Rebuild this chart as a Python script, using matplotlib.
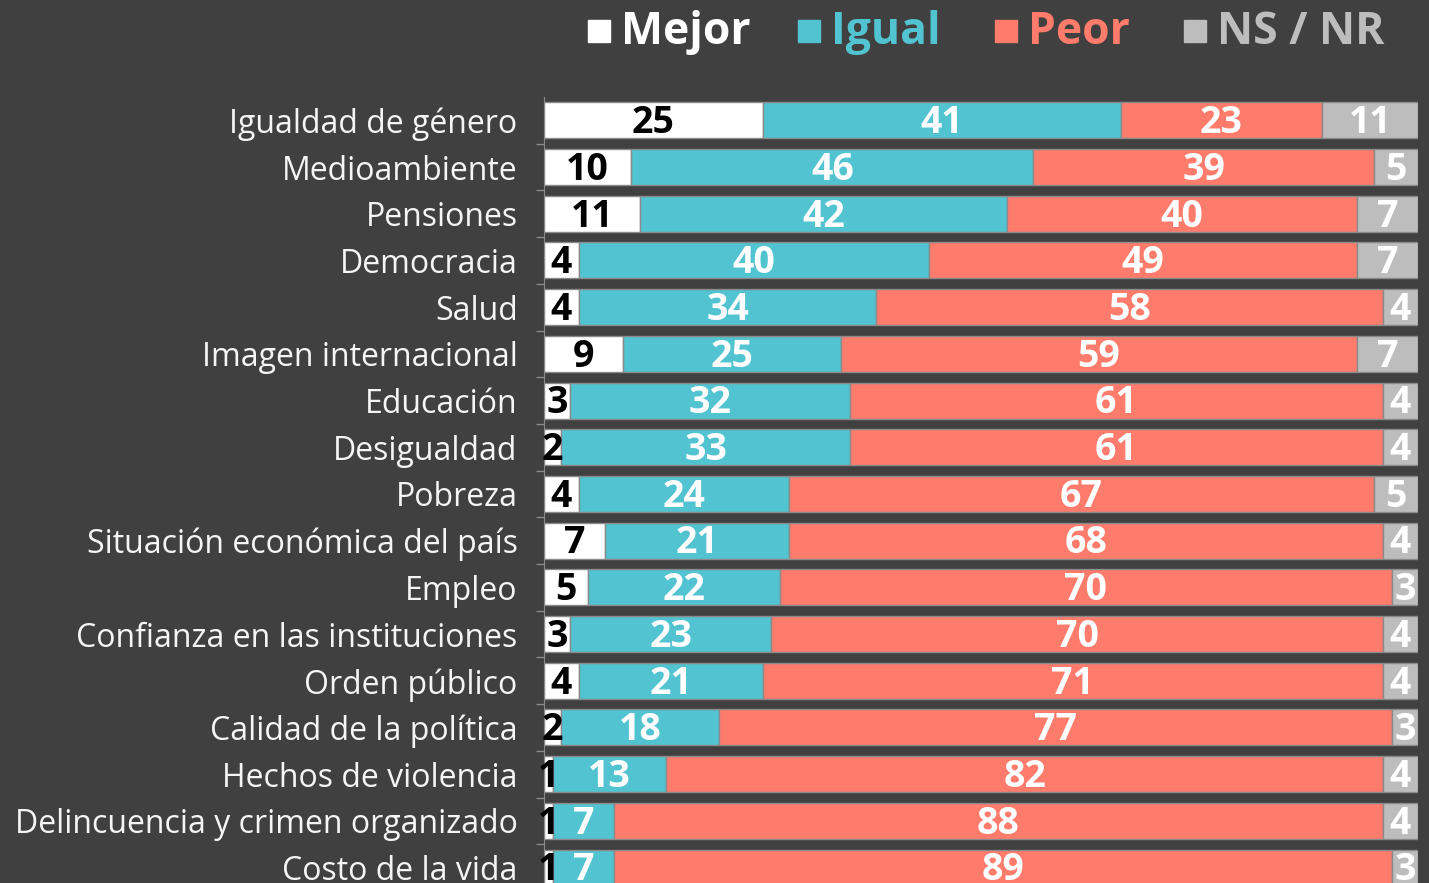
import numpy as np
import matplotlib
matplotlib.use("Agg")
from matplotlib import pyplot as plt
from matplotlib.patches import Rectangle

# datos
temas = ["Igualdad de género", "Medioambiente", "Pensiones", "Democracia", "Salud",
         "Imagen internacional", "Educación", "Desigualdad", "Pobreza",
         "Situación económica del país", "Empleo", "Confianza en las instituciones",
         "Orden público", "Calidad de la política", "Hechos de violencia",
         "Delincuencia y crimen organizado", "Costo de la vida"]
mejor = [25, 10, 11, 4, 4, 9, 3, 2, 4, 7, 5, 3, 4, 2, 1, 1, 1]
igual = [41, 46, 42, 40, 34, 25, 32, 33, 24, 21, 22, 23, 21, 18, 13, 7, 7]
peor = [23, 39, 40, 49, 58, 59, 61, 61, 67, 68, 70, 70, 71, 77, 82, 88, 89]
nsnr = [11, 5, 7, 7, 4, 7, 4, 4, 5, 4, 3, 4, 4, 3, 4, 4, 3]
series = ["Mejor", "Igual", "Peor", "NS / NR"]

fondo = "#404040"
colores = ["#ffffff", "#52c3d1", "#ff7b6b", "#bdbdbd"]
col_texto = ["#000000", "#ffffff", "#ffffff", "#ffffff"]
fuente = "Open Sans"

fig = plt.figure(figsize=(14.29, 8.83), dpi=100, facecolor=fondo)
alto = 17 * 46.7
ax = fig.add_axes([544/1429, (883 - 97 - alto)/883, 874/1429, alto/883], facecolor=fondo)

y = np.arange(len(temas))
izq = np.zeros(len(temas))
for k, vals in enumerate([mejor, igual, peor, nsnr]):
    vals = np.array(vals, dtype=float)
    ax.barh(y, vals, left=izq, height=0.77, color=colores[k],
            edgecolor="#8a8a8a", linewidth=1)
    for i in range(len(temas)):
        ax.text(izq[i] + vals[i]/2, y[i] + 0.06, str(int(vals[i])), ha="center", va="center",
                fontsize=27, fontweight="bold", color=col_texto[k], family=fuente)
    izq += vals

ax.set_xlim(0, 100)
ax.set_ylim(len(temas) - 0.5, -0.5)
ax.set_yticks(y)
ax.set_yticklabels(temas, fontsize=23, color="#f5f5f5", family=fuente)
ax.set_yticks(y[:-1] + 0.5, minor=True)
ax.tick_params(axis="y", which="major", length=0, pad=19)
ax.tick_params(axis="y", which="minor", length=6, color="#8a8a8a", width=1)
ax.set_xticks([])
for s in ["top", "right", "bottom"]:
    ax.spines[s].set_visible(False)
ax.spines["left"].set_color("#8a8a8a")

# leyenda
cuadros = [588, 798, 995, 1184]
for k, nombre in enumerate(series):
    x0 = cuadros[k]
    fig.patches.append(Rectangle((x0/1429, 1 - 42/883), 22/1429, 22/883,
                                 transform=fig.transFigure, color=colores[k]))
    fig.text((x0 + 33)/1429, 1 - 44/883, nombre, ha="left", va="baseline",
             fontsize=32, fontweight="bold", color=colores[k], family=fuente)

fig.savefig("out.png", facecolor=fondo)
